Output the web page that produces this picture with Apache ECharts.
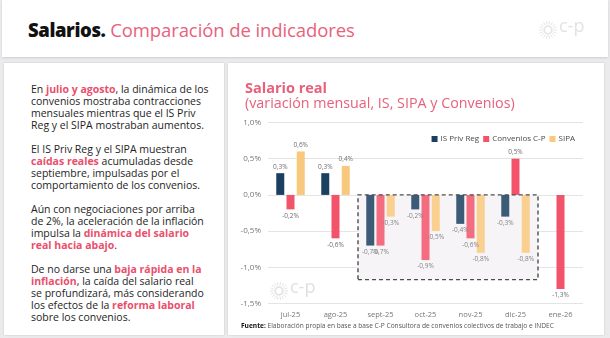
<!DOCTYPE html>
<html lang="es">
<head>
<meta charset="utf-8">
<title>Salarios. Comparación de indicadores</title>
<script src="https://cdn.jsdelivr.net/npm/echarts@6/dist/echarts.min.js"></script>
<style>
  html, body { margin: 0; padding: 0; }
  body { width: 610px; height: 338px; position: relative; overflow: hidden; background: #ebebed; font-family: "Open Sans", "DejaVu Sans", sans-serif; }
  .header { position: absolute; left: 2px; top: 0; width: 606px; height: 57px; background: #fff; box-shadow: 0 1px 2px rgba(0,0,0,0.12); }
  .header h1 { position: absolute; left: 26px; top: 17px; margin: 0; font-size: 18.5px; font-weight: 400; color: #e8627c; letter-spacing: -0.1px; white-space: nowrap; }
  .header h1 b { color: #111; font-weight: 800; letter-spacing: -0.4px; }
  .card { position: absolute; background: #fff; box-shadow: 0 0 2px rgba(0,0,0,0.15); }
  .left { left: 4px; top: 63px; width: 220px; height: 272px; }
  .right { left: 228px; top: 63px; width: 376px; height: 272px; }
  .txt { position: absolute; left: 31px; top: 84px; width: 200px; font-size: 10.5px; line-height: 11.9px; color: #1e1e1e; }
  .txt p { margin: 0 0 12.4px 0; white-space: nowrap; }
  .txt em { font-style: normal; font-weight: 700; color: #ea4f6d; }
  #chart { position: absolute; left: 0; top: 0; width: 610px; height: 338px; }
</style>
</head>
<body>
<div class="header"><h1><b>Salarios.</b> Comparación de indicadores</h1></div>
<div class="card left"></div>
<div class="card right"></div>
<div class="txt">
  <p>En <em>julio y agosto</em>, la dinámica de los<br>convenios mostraba contracciones<br>mensuales mientras que el IS Priv<br>Reg y el SIPA mostraban aumentos.</p>
  <p>El IS Priv Reg y el SIPA muestran<br><em>caídas reales</em> acumuladas desde<br>septiembre, impulsadas por el<br>comportamiento de los convenios.</p>
  <p>Aún con negociaciones por arriba<br>de 2%, la aceleración de la inflación<br>impulsa la <em>dinámica del salario<br>real hacia abajo</em>.</p>
  <p>De no darse una <em>baja rápida en la<br>inflación</em>, la caída del salario real<br>se profundizará, más considerando<br>los efectos de la <em>reforma laboral</em><br>sobre los convenios.</p>
</div>
<div id="chart"></div>
<script>
// Variación mensual del salario real (%)
const months = ['jul-25', 'ago-25', 'sept-25', 'oct-25', 'nov-25', 'dic-25', 'ene-26'];
const isPrivReg = [0.3, 0.3, -0.7, -0.2, -0.4, -0.3, null];
const conveniosCP = [-0.2, -0.6, -0.7, -0.9, -0.6, 0.5, -1.3];
const sipa = [0.6, 0.4, -0.3, -0.5, -0.8, -0.8, null];
const seriesNames = ['IS Priv Reg', 'Convenios C-P', 'SIPA'];
const yTicks = { min: -1.5, max: 1.0, step: 0.5 };
// Período destacado (sept-25 a dic-25) y su piso en el eje de valores
const highlightMonths = ['sept-25', 'dic-25'];
const highlightRange = [0, -1.17];

const colors = ['#1b3f60', '#f2536a', '#f8c87c'];
const pct = v => v.toFixed(1).replace('.', ',') + '%';

function barData(values) {
  return values.map(v => v === null ? '-' : {
    value: v,
    label: { position: v < 0 ? 'bottom' : 'top' }
  });
}

function sunburst(cx, cy, r, color) {
  const children = [{
    type: 'circle', shape: { cx: cx, cy: cy, r: r * 0.42 },
    style: { fill: 'none', stroke: color, lineWidth: r * 0.2 }
  }];
  const n = 18;
  for (let i = 0; i < n; i++) {
    const a = i * 2 * Math.PI / n;
    children.push({
      type: 'line',
      shape: { x1: cx + Math.cos(a) * r * 0.62, y1: cy + Math.sin(a) * r * 0.62, x2: cx + Math.cos(a) * r, y2: cy + Math.sin(a) * r },
      style: { stroke: color, lineWidth: 1 }
    });
  }
  return { type: 'group', silent: true, children: children };
}

const chart = echarts.init(document.getElementById('chart'), null, { renderer: 'canvas' });

const labelStyle = { show: true, fontSize: 6.5, color: '#6f6f6f', distance: 3, formatter: p => pct(p.value) };

chart.setOption({
  backgroundColor: 'transparent',
  animation: false,
  color: colors,
  textStyle: { fontFamily: '"Open Sans", sans-serif' },
  title: {
    left: 240, top: 76,
    text: 'Salario real',
    subtext: '(variación mensual, IS, SIPA y Convenios)',
    itemGap: 1,
    textStyle: { fontSize: 14.5, fontWeight: 700, color: '#e8607a' },
    subtextStyle: { fontSize: 14.3, fontWeight: 400, color: '#e8607a' }
  },
  legend: {
    right: 30, top: 130,
    itemWidth: 6, itemHeight: 6, itemGap: 4,
    icon: 'rect',
    textStyle: { fontSize: 8, color: '#4a4a4a', padding: [0, 0, 0, -2] },
    data: seriesNames
  },
  grid: { left: 268, right: 27, top: 122.5, bottom: 34.5, containLabel: false },
  xAxis: {
    type: 'category',
    data: months,
    axisLine: { show: false },
    axisTick: { show: false },
    axisLabel: { fontSize: 7.5, color: '#777', margin: 7 }
  },
  yAxis: {
    type: 'value',
    min: yTicks.min, max: yTicks.max, interval: yTicks.step,
    axisLine: { show: false },
    axisTick: { show: false },
    axisLabel: { fontSize: 8, color: '#777', margin: 7, formatter: v => pct(v) },
    splitLine: { lineStyle: { color: '#e4e4e4', width: 1 } }
  },
  series: [
    {
      name: seriesNames[0], type: 'bar', data: barData(isPrivReg),
      barWidth: 8, barGap: '28%', label: labelStyle,
      markArea: {
        silent: true, z: 1,
        itemStyle: { color: '#f5f3f5' },
        data: [[{ xAxis: highlightMonths[0], yAxis: highlightRange[0] }, { xAxis: highlightMonths[1], yAxis: highlightRange[1] }]]
      }
    },
    {
      name: seriesNames[1], type: 'bar', data: barData(conveniosCP),
      barWidth: 8, barGap: '28%', label: labelStyle,
      markArea: {
        silent: true, z: 3,
        itemStyle: { color: 'rgba(255,255,255,0.15)', borderColor: '#4d4d4d', borderWidth: 1.4, borderType: [4, 3] },
        data: [[{ xAxis: highlightMonths[0], yAxis: highlightRange[0] }, { xAxis: highlightMonths[1], yAxis: highlightRange[1] }]]
      }
    },
    {
      name: seriesNames[2], type: 'bar', data: barData(sipa),
      barWidth: 8, barGap: '28%', label: labelStyle
    }
  ],
  graphic: [
    sunburst(548, 30, 9, '#e6e6e6'),
    { type: 'text', silent: true, left: 559, top: 18, style: { text: 'c-p', fontSize: 18, fontFamily: '"Open Sans", sans-serif', fill: '#e3e3e3' } },
    sunburst(279, 291, 9, '#e3e3e3'),
    { type: 'text', silent: true, left: 290, top: 279, style: { text: 'c-p', fontSize: 18, fontFamily: '"Open Sans", sans-serif', fill: '#e0e0e0' } },
    {
      type: 'text', silent: true, left: 241, top: 323,
      style: {
        text: '{b|Fuente:} Elaboración propia en base a base C-P Consultora de convenios colectivos de trabajo e INDEC',
        fontSize: 6.6, fill: '#555', fontFamily: '"Open Sans", sans-serif',
        rich: { b: { fontSize: 6.6, fontWeight: 700, fill: '#111', fontFamily: '"Open Sans", sans-serif' } }
      }
    }
  ]
});
</script>
</body>
</html>
